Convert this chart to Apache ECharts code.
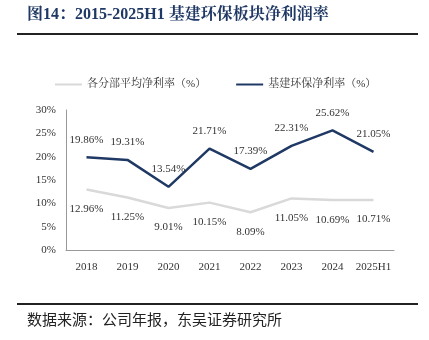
<!DOCTYPE html>
<html><head><meta charset="utf-8">
<script src="https://cdn.jsdelivr.net/npm/echarts@6/dist/echarts.min.js"></script>
<style>html,body{margin:0;padding:0;background:#fff}#c{width:429px;height:340px}</style>
</head><body><div id="c"></div>
<script>
const categories = ['2018','2019','2020','2021','2022','2023','2024','2025H1'];
const avgMargin = [12.96, 11.25, 9.01, 10.15, 8.09, 11.05, 10.69, 10.71];
const infraMargin = [19.86, 19.31, 13.54, 21.71, 17.39, 22.31, 25.62, 21.05];
const yTicks = [0, 5, 10, 15, 20, 25, 30];
const seriesNames = ['各分部平均净利率（%）', '基建环保净利率（%）'];

const serif = '"Times New Roman","Liberation Serif","Noto Serif CJK SC","Noto Sans CJK SC",serif';
const chart = echarts.init(document.getElementById('c'), null, {renderer:'canvas'});
chart.setOption({
  animation:false,
  backgroundColor:'#fff',
  graphic:[
    {type:'text', left:27, top:7, style:{text:'图14：2015-2025H1 基建环保板块净利润率', font:'bold 16px '+serif, fill:'#1f3864'}},
    {type:'line', shape:{x1:17,y1:34,x2:418,y2:34}, style:{stroke:'#222',lineWidth:2}},
    {type:'line', shape:{x1:17,y1:304,x2:418,y2:304}, style:{stroke:'#222',lineWidth:2}},
    {type:'text', left:27, top:312, style:{text:'数据来源：公司年报，东吴证券研究所', font:'15px "Noto Sans CJK SC",sans-serif', fill:'#222'}}
  ],
  legend:{
    top:74, left:50, itemWidth:27, itemHeight:2, itemGap:30,
    icon:'rect',
    textStyle:{fontSize:11, color:'#333', fontFamily:serif},
    data:seriesNames
  },
  grid:{left:66, right:35, top:110, bottom:90, containLabel:false},
  xAxis:{
    type:'category', data:categories, boundaryGap:true,
    axisLine:{lineStyle:{color:'#999'}},
    axisTick:{inside:true, length:4, interval:0, lineStyle:{color:'#999'}},
    axisLabel:{fontSize:11, color:'#333', fontFamily:serif, margin:12, interval:0}
  },
  yAxis:{
    type:'value', min:yTicks[0], max:yTicks[yTicks.length-1], interval:5,
    splitLine:{show:false},
    axisLine:{show:true, lineStyle:{color:'#999'}},
    axisTick:{show:false},
    axisLabel:{fontSize:11, color:'#333', fontFamily:serif, margin:10, formatter:'{value}%'}
  },
  series:[
    {name:seriesNames[0], type:'line', data:avgMargin, symbol:'circle', symbolSize:0.1, showSymbol:true,
     lineStyle:{color:'#d9d9d9', width:2.5}, itemStyle:{color:'#d9d9d9'},
     label:{show:true, position:'bottom', distance:14, fontSize:11, color:'#333', fontFamily:serif,
       formatter:p=>p.value.toFixed(2)+'%'}},
    {name:seriesNames[1], type:'line', data:infraMargin, symbol:'circle', symbolSize:0.1, showSymbol:true,
     lineStyle:{color:'#1f3864', width:2.5}, itemStyle:{color:'#1f3864'},
     label:{show:true, position:'top', distance:12, fontSize:11, color:'#333', fontFamily:serif,
       formatter:p=>p.value.toFixed(2)+'%'}}
  ]
});
</script></body></html>
